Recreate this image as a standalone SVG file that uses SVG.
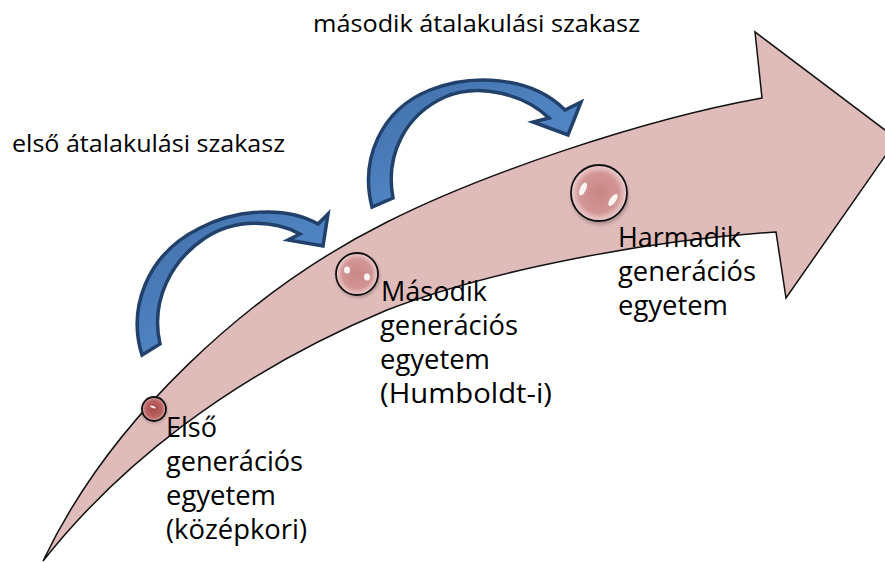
<svg xmlns="http://www.w3.org/2000/svg" width="885" height="563" viewBox="0 0 885 563">
  <defs>
    <style>
      .lbl { font-family: "Open Sans", "Lato", "Liberation Sans", sans-serif; fill: #000; }
      .big { font-size: 27px; }
      .small { font-size: 24px; }
      .ball { stroke: #111; stroke-width: 1.8; }
      .hl { fill: #fff; opacity: 0.9; }
      .curved { stroke: #22416a; stroke-width: 3.5; stroke-linejoin: miter; fill: url(#blueGrad); }
    </style>
    <radialGradient id="ballGrad" cx="0.5" cy="0.5" r="0.5">
      <stop offset="0" stop-color="#c98686"/>
      <stop offset="0.7" stop-color="#d29595"/>
      <stop offset="1" stop-color="#f0d2d2"/>
    </radialGradient>
    <radialGradient id="ballGradDark" cx="0.5" cy="0.5" r="0.5">
      <stop offset="0" stop-color="#a84848"/>
      <stop offset="0.7" stop-color="#bb6464"/>
      <stop offset="1" stop-color="#e4b0b0"/>
    </radialGradient>
    <linearGradient id="blueGrad" x1="0" y1="0" x2="1" y2="1">
      <stop offset="0" stop-color="#3f6ea8"/>
      <stop offset="0.5" stop-color="#4f82c0"/>
      <stop offset="1" stop-color="#5389c8"/>
    </linearGradient>
    <filter id="soft" x="-30%" y="-30%" width="160%" height="160%">
      <feGaussianBlur stdDeviation="1.5"/>
    </filter>
  </defs>

  <rect width="885" height="563" fill="#ffffff"/>

  <g id="bigArrow">
    <path d="M43,561 C115,470 225,378 387,310 C490,270 650,240 776,232 L786,298 L897,139 L755,32 L762,98 C640,120 480,175 387,222 C247,292 110,420 43,561 Z" fill="#dfbbba" stroke="#111" stroke-width="1.5" stroke-linejoin="miter"/>
  </g>

  <g id="connectors">
    <path class="curved" d="M142,355 C128,310 145,255 200,228 C235,210 285,205 318,224 L328,214 L323,246 L288,240 L300,234 C275,220 235,218 205,238 C172,260 150,300 160,344 Z"/>
    <path class="curved" d="M372,207 C360,160 380,110 430,90 C470,74 530,75 565,110 L581,102 L568,135 L533,122 L549,118 C525,95 480,82 445,97 C405,115 385,155 393,198 Z"/>
  </g>

  <g id="ball1">
    <circle cx="154" cy="410" r="13" fill="#000" opacity="0.25" filter="url(#soft)"/>
    <circle class="ball" cx="154" cy="409" r="12" fill="url(#ballGradDark)"/>
    <ellipse class="hl" cx="153" cy="407" rx="3" ry="1" transform="rotate(20 153 407)" opacity="0.7"/>
  </g>

  <g id="ball2">
    <circle cx="358" cy="276" r="22" fill="#000" opacity="0.2" filter="url(#soft)"/>
    <circle class="ball" cx="357" cy="274" r="21" fill="url(#ballGrad)"/>
    <ellipse class="hl" cx="347" cy="270" rx="3" ry="3.5"/>
    <ellipse class="hl" cx="367" cy="277" rx="3" ry="3.5"/>
  </g>

  <g id="ball3">
    <circle cx="600" cy="196" r="29" fill="#000" opacity="0.2" filter="url(#soft)"/>
    <circle class="ball" cx="599" cy="193" r="28" fill="url(#ballGrad)"/>
    <ellipse class="hl" cx="583" cy="189" rx="3" ry="7" transform="rotate(25 583 189)"/>
    <ellipse class="hl" cx="613" cy="200" rx="3" ry="7" transform="rotate(35 613 200)"/>
  </g>

  <g id="labels">
    <text class="lbl small" x="12" y="152" textLength="273" lengthAdjust="spacingAndGlyphs">első átalakulási szakasz</text>
    <text class="lbl small" x="313" y="32" textLength="327" lengthAdjust="spacingAndGlyphs">második átalakulási szakasz</text>
  </g>

  <g id="node1">
    <text class="lbl big"><tspan x="166" y="437" textLength="51" lengthAdjust="spacingAndGlyphs">Első</tspan><tspan x="166" y="471" textLength="137" lengthAdjust="spacingAndGlyphs">generációs</tspan><tspan x="166" y="505" textLength="110" lengthAdjust="spacingAndGlyphs">egyetem</tspan><tspan x="166" y="539" textLength="141" lengthAdjust="spacingAndGlyphs">(középkori)</tspan></text>
  </g>

  <g id="node2">
    <text class="lbl big"><tspan x="381" y="301" textLength="106" lengthAdjust="spacingAndGlyphs">Második</tspan><tspan x="380" y="335" textLength="138" lengthAdjust="spacingAndGlyphs">generációs</tspan><tspan x="380" y="369" textLength="110" lengthAdjust="spacingAndGlyphs">egyetem</tspan><tspan x="380" y="403" textLength="172" lengthAdjust="spacingAndGlyphs">(Humboldt-i)</tspan></text>
  </g>

  <g id="node3">
    <text class="lbl big"><tspan x="618" y="247" textLength="123" lengthAdjust="spacingAndGlyphs">Harmadik</tspan><tspan x="618" y="281" textLength="138" lengthAdjust="spacingAndGlyphs">generációs</tspan><tspan x="618" y="315" textLength="110" lengthAdjust="spacingAndGlyphs">egyetem</tspan></text>
  </g>
</svg>
